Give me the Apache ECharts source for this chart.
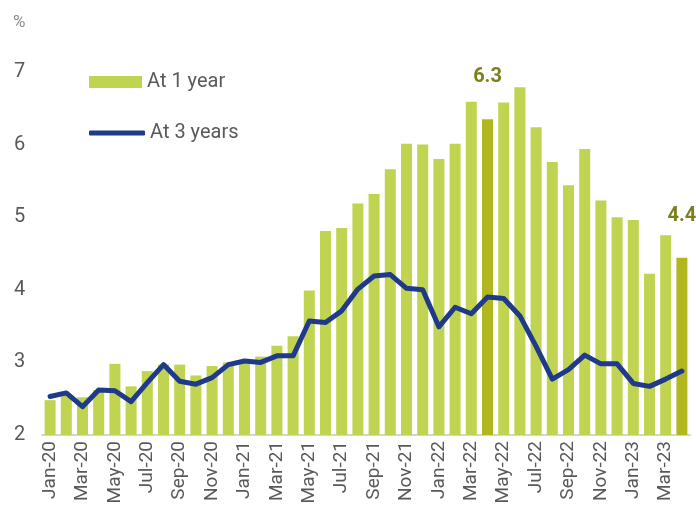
<!DOCTYPE html>
<html>
<head>
<meta charset="utf-8">
<script src="https://cdn.jsdelivr.net/npm/echarts@6/dist/echarts.min.js"></script>
<style>html,body{margin:0;padding:0;background:#fff}#c{width:696px;height:517px}</style>
</head>
<body>
<div id="c"></div>
<script>
const categories = ['Jan-20','Feb-20','Mar-20','Apr-20','May-20','Jun-20','Jul-20','Aug-20','Sep-20','Oct-20','Nov-20','Dec-20',
  'Jan-21','Feb-21','Mar-21','Apr-21','May-21','Jun-21','Jul-21','Aug-21','Sep-21','Oct-21','Nov-21','Dec-21',
  'Jan-22','Feb-22','Mar-22','Apr-22','May-22','Jun-22','Jul-22','Aug-22','Sep-22','Oct-22','Nov-22','Dec-22',
  'Jan-23','Feb-23','Mar-23','Apr-23'];
const oneYear = [2.48,2.55,2.52,2.62,2.98,2.67,2.88,2.97,2.97,2.82,2.95,3.0,
  3.03,3.08,3.23,3.36,3.99,4.81,4.85,5.19,5.32,5.66,6.01,6.0,
  5.80,6.01,6.59,6.35,6.58,6.79,6.24,5.76,5.44,5.94,5.23,5.0,
  4.96,4.22,4.75,4.44];
const threeYears = [2.53,2.58,2.39,2.62,2.61,2.46,2.72,2.97,2.74,2.70,2.79,2.97,
  3.02,3.0,3.09,3.09,3.57,3.55,3.71,4.01,4.19,4.21,4.02,4.0,
  3.49,3.76,3.67,3.90,3.88,3.64,3.22,2.77,2.90,3.10,2.98,2.98,
  2.71,2.67,2.77,2.88];
const highlighted = ['Apr-22','Apr-23'];
const labelTexts = {'Apr-22':'6.3','Apr-23':'4.4'};
const yTicks = [2,3,4,5,6,7];

const BAR = '#c0d452', DARK = '#b1b81f', LINE = '#1f3a8a', TXT = '#595959';
const FONT = 'Roboto';
const barData = oneYear.map((v,i)=>{
  const c = categories[i];
  if (highlighted.includes(c)) {
    return {value:v, itemStyle:{color:DARK},
      label:{show:true, position:'top', distance:32, formatter:labelTexts[c],
        color:'#7c7f1c', fontWeight:'bold', fontSize:20, fontFamily:FONT}};
  }
  return v;
});

const chart = echarts.init(document.getElementById('c'), null, {renderer:'canvas'});
chart.setOption({
  animation:false,
  textStyle:{fontFamily:FONT},
  grid:{left:42, right:6, top:72, bottom:82, containLabel:false},
  legend:[{
    show:true, orient:'vertical', left:89, top:72, padding:0,
    itemWidth:53, itemHeight:12,
    textStyle:{color:TXT, fontSize:20, fontFamily:FONT},
    data:[{name:'At 1 year', icon:'rect'}]
  },{
    show:true, orient:'vertical', left:89, top:123, padding:0,
    itemWidth:56, itemHeight:5,
    textStyle:{color:TXT, fontSize:20, fontFamily:FONT},
    itemStyle:{color:LINE},
    data:[{name:'At 3 years', icon:'roundRect'}]
  }],
  graphic:[{type:'text', left:13, top:14, style:{text:'%', fill:'#8c8c8c', font:'17px Roboto'}}],
  xAxis:{
    type:'category', data:categories,
    axisLine:{lineStyle:{color:'#d4d4d4', width:2}},
    axisTick:{show:false},
    axisLabel:{interval:1, rotate:90, color:TXT, fontSize:19, margin:6, fontFamily:FONT}
  },
  yAxis:{
    type:'value', min:yTicks[0], max:yTicks[yTicks.length-1], interval:1,
    axisLine:{show:false}, axisTick:{show:false}, splitLine:{show:false},
    axisLabel:{color:TXT, fontSize:20, margin:28, align:'left', fontFamily:FONT}
  },
  series:[
    {name:'At 1 year', type:'bar', data:barData, barCategoryGap:'32%', itemStyle:{color:BAR}},
    {name:'At 3 years', type:'line', data:threeYears, symbol:'none', showSymbol:false, smooth:false,
      lineStyle:{color:LINE, width:5, cap:'round', join:'round'}, itemStyle:{color:LINE}}
  ]
});
</script>
</body>
</html>
